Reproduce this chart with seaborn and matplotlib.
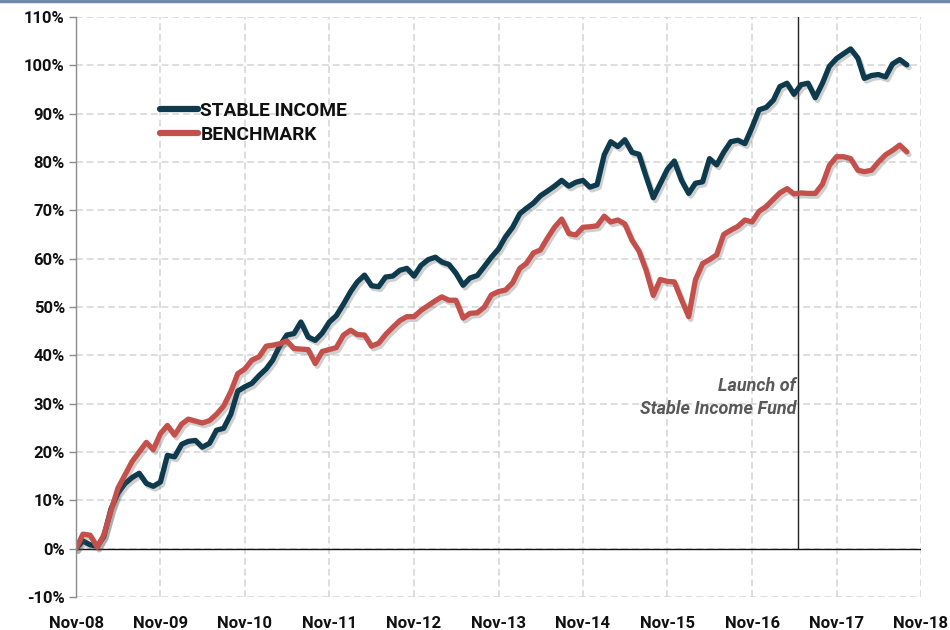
import matplotlib
matplotlib.use("Agg")
import matplotlib.pyplot as plt
import matplotlib.dates as mdates
import matplotlib.patheffects as pe
from matplotlib.lines import Line2D
from matplotlib.ticker import FuncFormatter
import seaborn as sns
import pandas as pd

# ---- data (monthly, Nov-2008 .. Sep-2018), cumulative return in % ----
start_month = "2008-11-01"
stable_income = [
    0, 1.6, 0.8, 0.5, 2.5, 8.2, 11.5, 13.5, 14.7, 15.6, 13.5, 12.9,
    13.8, 19.3, 19.0, 21.6, 22.2, 22.4, 21.0, 21.8, 24.5, 24.9, 27.8, 32.6,
    33.5, 34.2, 35.8, 37.2, 39.0, 42.0, 44.2, 44.5, 46.9, 43.8, 43.1, 44.6,
    46.9, 48.2, 50.6, 53.2, 55.2, 56.6, 54.4, 54.2, 56.2, 56.4, 57.6, 58.0,
    56.4, 58.6, 59.8, 60.3, 59.3, 58.8, 57.0, 54.5, 56.0, 56.5, 58.4, 60.3,
    62.0, 64.5, 66.5, 69.3, 70.4, 71.5, 73.0, 74.0, 75.0, 76.2, 75.0, 75.8,
    76.2, 74.8, 75.3, 81.5, 84.2, 83.2, 84.6, 82.0, 81.6, 77.0, 72.6, 75.5,
    78.5, 80.2, 76.2, 73.5, 75.6, 75.9, 80.7, 79.4, 82.0, 84.2, 84.5, 83.8,
    87.2, 90.8, 91.3, 92.8, 95.6, 96.3, 94.0, 96.0, 96.3, 93.3, 96.3, 99.8,
    101.4, 102.4, 103.4, 101.5, 97.3, 97.9, 98.1, 97.6, 100.3, 101.2, 100.1,
]
benchmark = [
    0, 3.0, 2.8, 0.3, 2.8, 7.8, 12.5, 15.3, 18.0, 20.0, 22.0, 20.5,
    23.8, 25.5, 23.5, 25.8, 26.8, 26.4, 26.0, 26.5, 27.8, 29.5, 32.5, 36.2,
    37.2, 39.0, 39.7, 41.9, 42.1, 42.4, 43.0, 41.4, 41.3, 41.2, 38.3, 40.8,
    41.2, 41.6, 44.2, 45.2, 44.3, 44.2, 41.9, 42.5, 44.3, 45.8, 47.2, 48.0,
    48.0, 49.3, 50.3, 51.3, 52.1, 51.4, 51.4, 47.7, 48.7, 48.8, 50.0, 52.5,
    53.2, 53.5, 55.0, 58.0, 59.0, 61.2, 61.8, 64.3, 66.5, 68.2, 65.2, 64.9,
    66.5, 66.6, 66.8, 68.8, 67.6, 68.0, 67.2, 63.8, 61.6, 57.6, 52.4, 55.7,
    55.3, 55.2, 51.5, 48.0, 55.6, 59.0, 59.8, 60.8, 65.0, 65.9, 66.7, 68.0,
    67.6, 69.8, 70.8, 72.3, 73.6, 74.5, 73.4, 73.6, 73.5, 73.5, 75.4, 79.3,
    81.1, 81.1, 80.7, 78.3, 78.0, 78.3, 80.0, 81.5, 82.4, 83.5, 82.1,
]
series_names = ["STABLE INCOME", "BENCHMARK"]
series_colors = ["#0e3a4e", "#c4504c"]
year_ticks = ["2008-11-01", "2009-11-01", "2010-11-01", "2011-11-01", "2012-11-01",
              "2013-11-01", "2014-11-01", "2015-11-01", "2016-11-01", "2017-11-01",
              "2018-11-01"]
y_ticks = list(range(-10, 111, 10))
launch_date = "2017-05-20"
launch_text = "Launch of\nStable Income Fund"

dates = pd.date_range(start_month, periods=len(stable_income), freq="MS")
df = pd.concat([
    pd.DataFrame({"date": dates, "value": stable_income, "series": series_names[0]}),
    pd.DataFrame({"date": dates, "value": benchmark, "series": series_names[1]}),
])

sns.set_theme(style="white")
plt.rcParams["font.family"] = ["Roboto", "DejaVu Sans"]

fig = plt.figure(figsize=(9.5, 6.3), dpi=100)
ax = fig.add_axes([76 / 950, 1 - 597 / 630, 845 / 950, 580 / 630])

sns.lineplot(data=df, x="date", y="value", hue="series", hue_order=series_names,
             palette=series_colors, linewidth=3.8, ax=ax, legend=False, zorder=5)

for line in ax.get_lines():
    line.set_solid_capstyle("round")
    line.set_solid_joinstyle("round")
    line.set_path_effects([pe.SimpleLineShadow(offset=(1.5, -2), alpha=0.28, shadow_color="#555555"),
                           pe.Normal()])

tick_dates = pd.to_datetime(year_ticks)
ax.set_xlim(tick_dates[0], tick_dates[-1])
ax.set_ylim(-10, 110)
ax.set_xticks(tick_dates)
ax.xaxis.set_major_formatter(mdates.DateFormatter("%b-%y"))
ax.set_yticks(y_ticks)
ax.yaxis.set_major_formatter(FuncFormatter(lambda v, p: f"{v:.0f}%"))

ax.grid(True, which="major", color="#d4d4d4", linestyle=(0, (4.5, 2.5)), linewidth=1.1)
ax.set_axisbelow(True)
for s in ["top", "right", "bottom"]:
    ax.spines[s].set_visible(False)
ax.spines["left"].set_color("#8c8c8c")
ax.spines["left"].set_linewidth(1.0)
ax.spines["left"].set_zorder(6)

ax.tick_params(axis="y", which="major", left=True, length=5, width=1, color="#8c8c8c",
               direction="out", pad=3, labelsize=12, labelcolor="#111111")
ax.tick_params(axis="x", which="major", bottom=False, length=0, pad=14,
               labelsize=12, labelcolor="#111111")
for lab in ax.get_xticklabels() + ax.get_yticklabels():
    lab.set_fontweight("bold")

ax.set_xlabel("")
ax.set_ylabel("")

# zero line and launch line
ax.axhline(0, color="#111111", linewidth=1.0, zorder=3)
ax.axvline(pd.Timestamp(launch_date), ymin=10 / 120, ymax=1, color="#222222",
           linewidth=1.0, zorder=3)
ax.text(pd.Timestamp(launch_date) - pd.Timedelta(days=10), 31.2, launch_text,
        ha="right", va="center", fontsize=13, fontstyle="italic", fontweight="bold",
        color="#595959", linespacing=1.35, zorder=4)

# legend
handles = [Line2D([0], [0], color=c, linewidth=4.5, solid_capstyle="round") for c in series_colors]
leg = ax.legend(handles, series_names, loc="upper left",
                bbox_to_anchor=((160 - 76) / 845, (597 - 102) / 580),
                frameon=False, handlelength=2.0, handletextpad=0.1, labelspacing=0.3,
                borderpad=0, borderaxespad=0,
                prop={"weight": "bold", "size": 13.8})
for t in leg.get_texts():
    t.set_color("#111111")

# top border stripe
fig.add_artist(Line2D([0, 1], [0.998, 0.998], transform=fig.transFigure,
                      color="#6d88ab", linewidth=2.5))

fig.savefig("out.png", dpi=100, facecolor="white")
